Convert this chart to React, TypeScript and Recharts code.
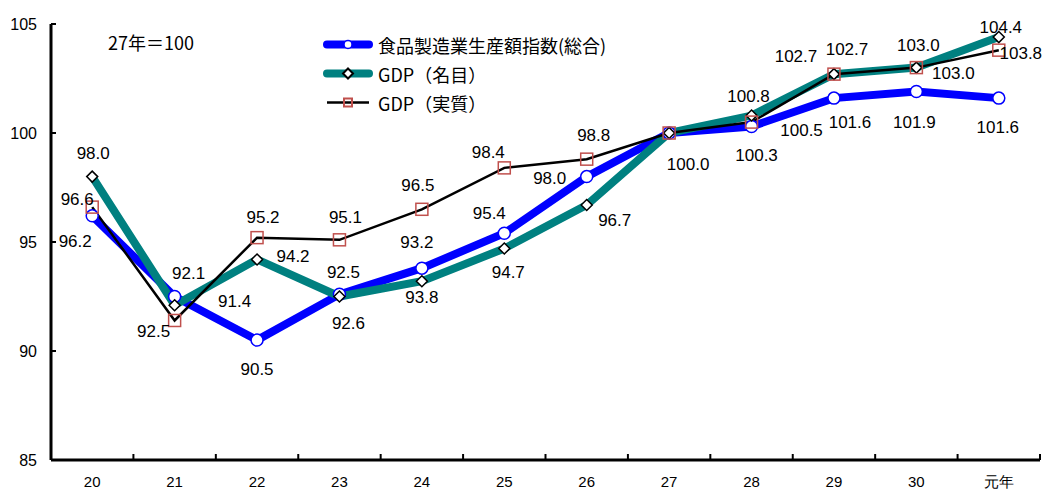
import React from 'react';
import { LineChart, Line, XAxis, YAxis, Legend, LabelList } from 'recharts';

const years = ['20', '21', '22', '23', '24', '25', '26', '27', '28', '29', '30', '元年'];
const foodIndex = [96.2, 92.5, 90.5, 92.6, 93.8, 95.4, 98.0, 100.0, 100.3, 101.6, 101.9, 101.6];
const gdpNominal = [98.0, 92.1, 94.2, 92.5, 93.2, 94.7, 96.7, 100.0, 100.8, 102.7, 103.0, 104.4];
const gdpReal = [96.6, 91.4, 95.2, 95.1, 96.5, 98.4, 98.8, 100.0, 100.5, 102.7, 103.0, 103.8];
const yTicks = [85, 90, 95, 100, 105];

const seriesNames = {
  food: '食品製造業生産額指数(総合)',
  nominal: 'GDP（名目）',
  real: 'GDP（実質）',
};
const seriesOrder = ['food', 'nominal', 'real'];

// where each data label sits, relative to its point (label placement was hand-tuned in the original)
const foodLabelAt: ([number, number] | null)[] = [
  [-17, 26], [-21, 35], [0, 29], [9, 29], [0, 29], [-15, -20],
  [-37, 2], [19, 31], [5, 29], [16, 24], [-2, 31], [-1, 29],
];
const nominalLabelAt: ([number, number] | null)[] = [
  [1, -23], [14, -32], [36, -3], [4, -24], [-5, -39], [4, 24],
  [28, 16], null, [-3, -19], [-38, -18], [2, -22], [2, -10],
];
const realLabelAt: ([number, number] | null)[] = [
  [-15, -8], [60, -19], [6, -20], [6, -22], [-4, -24], [-16, -15],
  [7, -24], null, [50, 8], [13, -25], [37, 6], [22, 3],
];

const data = years.map((year, i) => ({
  year,
  food: foodIndex[i],
  nominal: gdpNominal[i],
  real: gdpReal[i],
}));

const W = 1043;
const H = 484;
const margin = { top: 16, right: 11, bottom: 2, left: 0 };
const xAxisHeight = 30;
const yAxisWidth = 43;
const BAND = (W - margin.left - margin.right - yAxisWidth) / years.length;

const numFont = '"Liberation Sans", Arial, sans-serif';
const jpFont = '"Noto Sans CJK JP", sans-serif';

const BLUE = '#0000ff';
const TEAL = '#008080';
const SQUARE = '#c0504d';

const makeLabel = (offsets: ([number, number] | null)[]) => (props: any) => {
  const { x, y, value, index } = props;
  const off = offsets[index];
  if (!off) return null;
  return (
    <text
      x={x + off[0]}
      y={y + off[1]}
      textAnchor="middle"
      dominantBaseline="central"
      fontSize={17}
      fontFamily={numFont}
      fill="#000"
    >
      {Number(value).toFixed(1)}
    </text>
  );
};

const CircleDot = (props: any) => {
  const { cx, cy, index } = props;
  return <circle key={'c' + index} cx={cx} cy={cy} r={6} fill="#fff" stroke={BLUE} strokeWidth={1.5} />;
};

const DiamondDot = (props: any) => {
  const { cx, cy, index } = props;
  const s = 5.5;
  return (
    <polygon
      key={'d' + index}
      points={`${cx},${cy - s} ${cx + s},${cy} ${cx},${cy + s} ${cx - s},${cy}`}
      fill="#fff"
      stroke="#000"
      strokeWidth={1.5}
    />
  );
};

const SquareDot = (props: any) => {
  const { cx, cy, index } = props;
  return (
    <rect key={'s' + index} x={cx - 6} y={cy - 6} width={12} height={12} fill="none" stroke={SQUARE} strokeWidth={1.5} />
  );
};

const XTick = (props: any) => {
  const { x, y, payload } = props;
  return (
    <g>
      <line x1={x + BAND / 2} x2={x + BAND / 2} y1={y} y2={y - 6} stroke="#000" strokeWidth={2} />
      <text x={x} y={y + 21} textAnchor="middle" dominantBaseline="central" fontSize={15} fontFamily={numFont} fill="#000">
        {payload.value}
      </text>
    </g>
  );
};

const YTick = (props: any) => {
  const { x, y, payload } = props;
  return (
    <g>
      <line x1={x} x2={x + 5} y1={y} y2={y} stroke="#000" strokeWidth={2} />
      <text x={x - 14} y={y} textAnchor="end" dominantBaseline="central" fontSize={16} fontFamily={numFont} fill="#000">
        {payload.value}
      </text>
    </g>
  );
};

const LegendIcon = ({ kind }: { kind: string }) => {
  if (kind === 'food') {
    return (
      <svg width={50} height={29}>
        <line x1={4} x2={46} y1={14.5} y2={14.5} stroke={BLUE} strokeWidth={8} strokeLinecap="round" />
        <circle cx={25} cy={14.5} r={4} fill="#fff" stroke={BLUE} strokeWidth={1.5} />
      </svg>
    );
  }
  if (kind === 'nominal') {
    return (
      <svg width={50} height={29}>
        <line x1={4} x2={46} y1={14.5} y2={14.5} stroke={TEAL} strokeWidth={8} strokeLinecap="round" />
        <polygon points="25,9.5 30,14.5 25,19.5 20,14.5" fill="#fff" stroke="#000" strokeWidth={2} />
      </svg>
    );
  }
  return (
    <svg width={50} height={29}>
      <line x1={4} x2={46} y1={14.5} y2={14.5} stroke="#000" strokeWidth={2.5} />
      <rect x={21} y={10.5} width={8} height={8} fill="none" stroke={SQUARE} strokeWidth={2} />
    </svg>
  );
};

const renderLegend = (props: any) => {
  const { payload } = props;
  const items = [...(payload || [])].sort(
    (a: any, b: any) => seriesOrder.indexOf(a.dataKey) - seriesOrder.indexOf(b.dataKey)
  );
  return (
    <div>
      {items.map((entry: any) => (
        <div key={entry.dataKey} style={{ display: 'flex', alignItems: 'center', height: 29 }}>
          <LegendIcon kind={entry.dataKey} />
          <span style={{ marginLeft: 5, fontSize: 18, fontFamily: jpFont, color: '#000' }}>{entry.value}</span>
        </div>
      ))}
    </div>
  );
};

export default function App() {
  return (
    <div style={{ position: 'relative', width: W, height: H }}>
      <LineChart width={W} height={H} data={data} margin={margin}>
        <XAxis
          dataKey="year"
          height={xAxisHeight}
          padding={{ left: BAND / 2, right: BAND / 2 }}
          axisLine={{ stroke: '#000', strokeWidth: 3 }}
          tickLine={false}
          tickSize={0}
          tickMargin={0}
          tick={<XTick />}
          interval={0}
        />
        <YAxis
          domain={[85, 105]}
          ticks={yTicks}
          width={yAxisWidth}
          axisLine={{ stroke: '#000', strokeWidth: 3 }}
          tickLine={false}
          tickSize={0}
          tickMargin={0}
          tick={<YTick />}
          interval={0}
        />
        <Legend
          content={renderLegend}
          layout="horizontal"
          verticalAlign="middle"
          align="center"
          wrapperStyle={{ position: 'absolute', left: 315, top: 22, width: 'auto', height: 'auto' }}
        />
        <Line
          dataKey="food"
          name={seriesNames.food}
          stroke={BLUE}
          strokeWidth={8}
          dot={CircleDot}
          activeDot={false}
          isAnimationActive={false}
        >
          <LabelList dataKey="food" content={makeLabel(foodLabelAt)} />
        </Line>
        <Line
          dataKey="nominal"
          name={seriesNames.nominal}
          stroke={TEAL}
          strokeWidth={8}
          dot={DiamondDot}
          activeDot={false}
          isAnimationActive={false}
        >
          <LabelList dataKey="nominal" content={makeLabel(nominalLabelAt)} />
        </Line>
        <Line
          dataKey="real"
          name={seriesNames.real}
          stroke="#000"
          strokeWidth={2.5}
          dot={SquareDot}
          activeDot={false}
          isAnimationActive={false}
        >
          <LabelList dataKey="real" content={makeLabel(realLabelAt)} />
        </Line>
      </LineChart>
      <div
        style={{
          position: 'absolute',
          left: 100,
          top: 23,
          fontSize: 18,
          fontFamily: jpFont,
          lineHeight: '22px',
          color: '#000',
        }}
      >
        27年＝100
      </div>
    </div>
  );
}
